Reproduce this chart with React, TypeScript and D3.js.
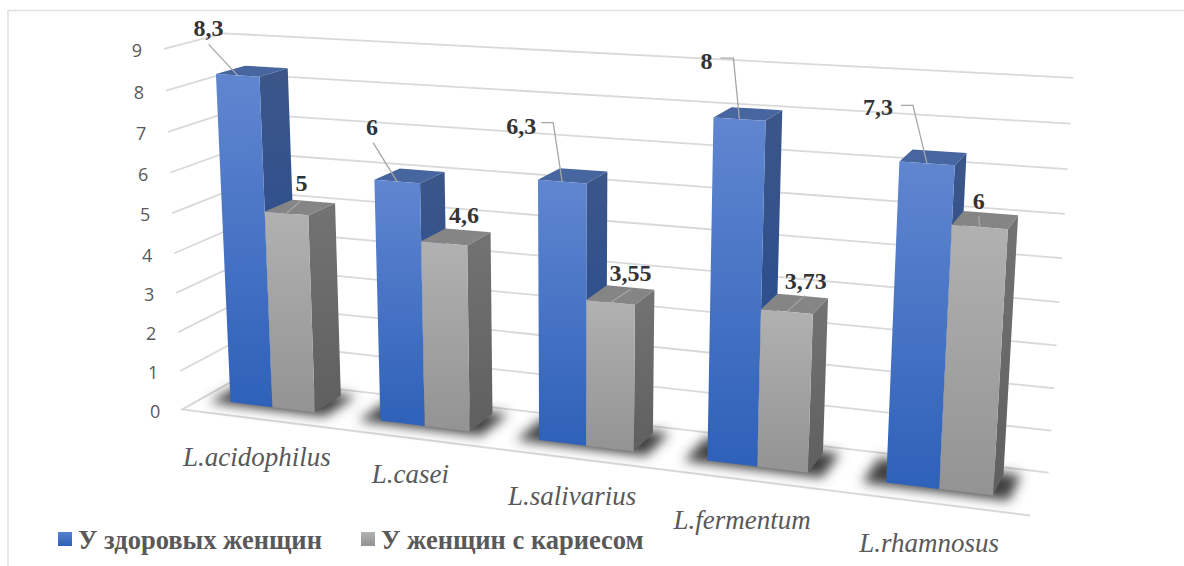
import React from "react";
import * as d3 from "d3";

const categories = ["L.acidophilus", "L.casei", "L.salivarius", "L.fermentum", "L.rhamnosus"];
const healthyValues = [8.3, 6, 6.3, 8, 7.3];
const cariesValues = [5, 4.6, 3.55, 3.73, 6];
const healthyLabels = ["8,3", "6", "6,3", "8", "7,3"];
const cariesLabels = ["5", "4,6", "3,55", "3,73", "6"];
const seriesNames = ["У здоровых женщин", "У женщин с кариесом"];
const axisTicks = [0, 1, 2, 3, 4, 5, 6, 7, 8, 9];

// Screen positions of the plot box corners: [u, v, w, x, y]
const boxCorners: number[][] = [
  [0, 0, 0, 185, 408],
  [0, 0, 1, 161, 49],
  [0, 1, 0, 236, 379],
  [0, 1, 1, 227, 33],
  [1, 1, 0, 1049, 471],
  [1, 1, 1, 1073, 78],
  [1, 0, 0, 1030, 517],
];

// Least-squares fit of a pinhole camera to the box corners
function fitCamera(points: number[][]) {
  const rows: number[][] = [];
  const rhs: number[] = [];
  for (const [u, v, w, x, y] of points) {
    rows.push([u, v, w, 1, 0, 0, 0, 0, -x * u, -x * v, -x * w]);
    rhs.push(x);
    rows.push([0, 0, 0, 0, u, v, w, 1, -y * u, -y * v, -y * w]);
    rhs.push(y);
  }
  const n = 11;
  const m: number[][] = d3.range(n).map((i) => [
    ...d3.range(n).map((j) => d3.sum(rows, (r) => r[i] * r[j])),
    d3.sum(rows, (r, k) => r[i] * rhs[k]),
  ]);
  for (let i = 0; i < n; i++) m[i][i] += 1e-6;
  for (let c = 0; c < n; c++) {
    let pivot = c;
    for (let r = c + 1; r < n; r++) if (Math.abs(m[r][c]) > Math.abs(m[pivot][c])) pivot = r;
    [m[c], m[pivot]] = [m[pivot], m[c]];
    for (let r = 0; r < n; r++) {
      if (r === c) continue;
      const f = m[r][c] / m[c][c];
      for (let k = c; k <= n; k++) m[r][k] -= f * m[c][k];
    }
  }
  return m.map((row, i) => row[n] / row[i]);
}

const cam = fitCamera(boxCorners);
const project = (u: number, v: number, w: number): [number, number] => {
  const d = cam[8] * u + cam[9] * v + cam[10] * w + 1;
  return [
    (cam[0] * u + cam[1] * v + cam[2] * w + cam[3]) / d,
    (cam[4] * u + cam[5] * v + cam[6] * w + cam[7]) / d,
  ];
};

const valueScale = d3.scaleLinear().domain([0, 9]).range([0, 1]);
const groupScale = d3.scaleBand<string>().domain(categories).range([0, 0.995]).paddingInner(0.43).paddingOuter(0.2);
const seriesScale = d3.scaleBand<number>().domain([0, 1]).range([0, groupScale.bandwidth()]);
const depthScale = d3.scaleLinear().domain([0, 1]).range([0.33, 0.83]);

const toPoints = (pts: [number, number][]) => pts.map((p) => p.join(",")).join(" ");

// Leader geometry relative to the middle of each bar's front top edge: label, then line points
const healthyCallouts: { label: [number, number]; line: [number, number][] }[] = [
  { label: [-29, -48], line: [[-29, -31], [0, 0]] },
  { label: [-25, -55], line: [[-24, -39], [0, 0]] },
  { label: [-41, -56], line: [[-21, -59], [-9, -59], [0, 0]] },
  { label: [-33, -59], line: [[-19, -61], [-6, -61], [0, 0]] },
  { label: [-49, -57], line: [[-26, -58], [-14, -58], [0, 0]] },
];
const cariesCallouts: { label: [number, number]; line: [number, number][] }[] = [
  { label: [15, -31], line: [[15, -13], [0, 0]] },
  { label: [20, -29], line: [] },
  { label: [20, -30], line: [[20, -13], [0, 0]] },
  { label: [19, -31], line: [[18, -16], [0, 0]] },
  { label: [-1, -26], line: [[-1, -11], [0, 0]] },
];
// Category label centres relative to the projected front edge of each group
const categoryOffsets: [number, number][] = [
  [3, 38],
  [2, 36],
  [0, 37],
  [-4, 40],
  [-2, 39],
];

const seriesStyles = [
  { id: "healthy", side: "url(#healthySide)", top: "#47659f", front: "url(#healthyFront)" },
  { id: "caries", side: "url(#cariesSide)", top: "#858585", front: "url(#cariesFront)" },
];

function Bar({ cat, s, value }: { cat: string; s: number; value: number }) {
  const u0 = groupScale(cat)! + seriesScale(s)!;
  const u1 = u0 + seriesScale.bandwidth();
  const v0 = depthScale(0);
  const v1 = depthScale(1);
  const w = valueScale(value);
  const st = seriesStyles[s];
  return (
    <g>
      <polygon points={toPoints([project(u1, v0, 0), project(u1, v1, 0), project(u1, v1, w), project(u1, v0, w)])} fill={st.side} />
      <polygon points={toPoints([project(u0, v0, w), project(u1, v0, w), project(u1, v1, w), project(u0, v1, w)])} fill={st.top} />
      <polygon points={toPoints([project(u0, v0, 0), project(u1, v0, 0), project(u1, v0, w), project(u0, v0, w)])} fill={st.front} />
    </g>
  );
}

function Callout({ cat, s, value, text, spec }: { cat: string; s: number; value: number; text: string; spec: { label: [number, number]; line: [number, number][] } }) {
  const u = groupScale(cat)! + seriesScale(s)! + seriesScale.bandwidth() / 2;
  const [ax, ay] = project(u, depthScale(0), valueScale(value));
  return (
    <g>
      {spec.line.length > 0 && (
        <polyline points={toPoints(spec.line.map(([dx, dy]) => [ax + dx, ay + dy] as [number, number]))} fill="none" stroke="#a6a6a6" strokeWidth={1.3} />
      )}
      <text x={ax + spec.label[0]} y={ay + spec.label[1]} dy="0.35em" textAnchor="middle" fontFamily="'Liberation Serif', serif" fontWeight={700} fontSize={24} fill="#333333">
        {text}
      </text>
    </g>
  );
}

export default function App() {
  const gridLine = (t: number) => {
    const w = valueScale(t);
    return toPoints([project(0, 0, w), project(0, 1, w), project(1, 1, w)]);
  };
  return (
    <svg width={1184} height={566} style={{ position: "absolute", left: 0, top: 0, background: "#fff" }}>
      <defs>
        <linearGradient id="healthyFront" x1="0" y1="0" x2="0" y2="1">
          <stop offset="0" stopColor="#6086d0" />
          <stop offset="1" stopColor="#2e61b9" />
        </linearGradient>
        <linearGradient id="healthySide" x1="0" y1="0" x2="0" y2="1">
          <stop offset="0" stopColor="#3c5689" />
          <stop offset="1" stopColor="#224a90" />
        </linearGradient>
        <linearGradient id="cariesFront" x1="0" y1="0" x2="0" y2="1">
          <stop offset="0" stopColor="#b1b1b1" />
          <stop offset="1" stopColor="#939393" />
        </linearGradient>
        <linearGradient id="cariesSide" x1="0" y1="0" x2="0" y2="1">
          <stop offset="0" stopColor="#737373" />
          <stop offset="1" stopColor="#5f5f5f" />
        </linearGradient>
        <linearGradient id="healthyKey" x1="0" y1="0" x2="0" y2="1">
          <stop offset="0" stopColor="#5680cf" />
          <stop offset="1" stopColor="#2e61b9" />
        </linearGradient>
        <linearGradient id="cariesKey" x1="0" y1="0" x2="0" y2="1">
          <stop offset="0" stopColor="#b1b1b1" />
          <stop offset="1" stopColor="#939393" />
        </linearGradient>
        <filter id="floorShadow" x="-30%" y="-80%" width="160%" height="260%">
          <feGaussianBlur stdDeviation="6" />
        </filter>
      </defs>

      {/* chart frame */}
      <path d="M8,566V10.5H1184" fill="none" stroke="#e0e0e0" strokeWidth={1.5} />

      {/* walls */}
      {axisTicks.map((t) => (
        <polyline key={t} points={gridLine(t)} fill="none" stroke="#d9d9d9" strokeWidth={1.8} />
      ))}
      <polyline points={toPoints([project(0, 1, 0), project(0, 0, 0), project(1, 0, 0)])} fill="none" stroke="#d9d9d9" strokeWidth={1.8} />

      {axisTicks.map((t) => {
        const [x, y] = project(0, 0, valueScale(t));
        return (
          <text key={t} x={x - 27} y={y + 2} dy="0.35em" textAnchor="middle" fontFamily="'Open Sans', sans-serif" fontSize={18} fill="#595959">
            {t}
          </text>
        );
      })}

      {/* floor shadows */}
      {categories.map((c) => {
        const u0 = groupScale(c)! - 0.024;
        const u1 = groupScale(c)! + groupScale.bandwidth() + 0.018;
        const v0 = depthScale(0) - 0.07;
        const v1 = depthScale(1) + 0.04;
        return (
          <polygon
            key={c}
            points={toPoints([project(u0, v0, 0), project(u1, v0, 0), project(u1, v1, 0), project(u0, v1, 0)])}
            fill="#404040"
            filter="url(#floorShadow)"
          />
        );
      })}

      {/* bars */}
      {categories.map((c, i) => (
        <g key={c}>
          <Bar cat={c} s={0} value={healthyValues[i]} />
          <Bar cat={c} s={1} value={cariesValues[i]} />
        </g>
      ))}

      {/* data labels */}
      {categories.map((c, i) => (
        <g key={c}>
          <Callout cat={c} s={0} value={healthyValues[i]} text={healthyLabels[i]} spec={healthyCallouts[i]} />
          <Callout cat={c} s={1} value={cariesValues[i]} text={cariesLabels[i]} spec={cariesCallouts[i]} />
        </g>
      ))}

      {/* category labels */}
      {categories.map((c, i) => {
        const [x, y] = project(groupScale(c)! + groupScale.bandwidth() / 2, 0, 0);
        return (
          <text key={c} x={x + categoryOffsets[i][0]} y={y + categoryOffsets[i][1]} dy="0.35em" textAnchor="middle" fontFamily="'Liberation Serif', serif" fontStyle="italic" fontSize={27} fill="#595959">
            {c}
          </text>
        );
      })}

      {/* legend */}
      <rect x={58} y={532} width={14} height={14} fill="url(#healthyKey)" />
      <text x={78} y={549} fontFamily="'Liberation Serif', serif" fontWeight={700} fontSize={26.5} fill="#595959">
        {seriesNames[0]}
      </text>
      <rect x={361} y={532} width={14} height={14} fill="url(#cariesKey)" />
      <text x={381} y={549} fontFamily="'Liberation Serif', serif" fontWeight={700} fontSize={26.5} fill="#595959">
        {seriesNames[1]}
      </text>
    </svg>
  );
}
